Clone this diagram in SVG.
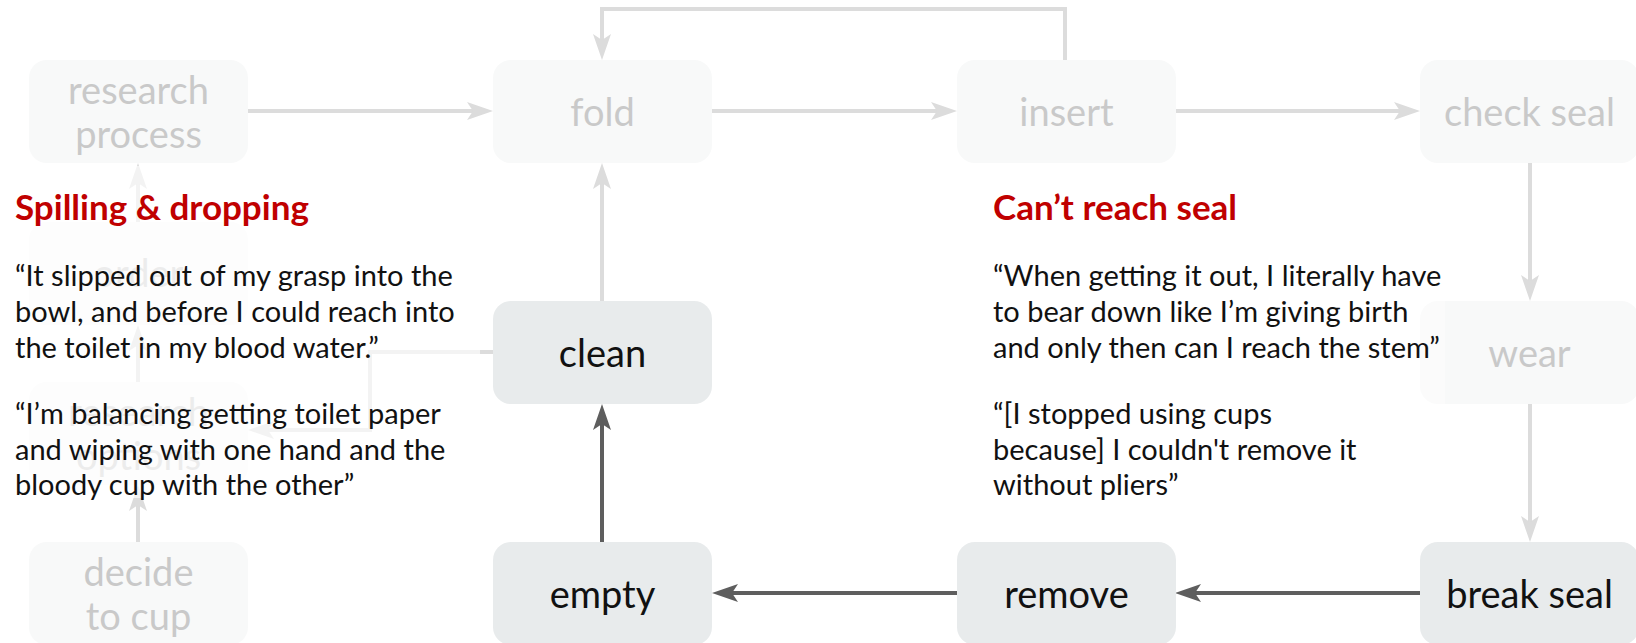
<svg xmlns="http://www.w3.org/2000/svg" width="1636" height="643" viewBox="0 0 1636 643">
<style>
.box{fill:#f8f9f9}
.abox{fill:#e8ebec}
.lbl{font-family:Lato,"Noto Sans",sans-serif;font-size:38px;text-anchor:middle;fill:#c9c9c9}
.albl{font-family:Lato,"Noto Sans",sans-serif;font-size:38px;text-anchor:middle;fill:#111}
.e{fill:none;stroke:#dcdcdc;stroke-width:4}
.d{fill:none;stroke:#5e5e5e;stroke-width:4}
.title{font-family:Lato,"Noto Sans",sans-serif;font-size:35px;font-weight:bold;fill:#c00000}
.q{font-family:Lato,"Noto Sans",sans-serif;font-size:29px;fill:#111}
</style>
<defs>
<marker id="al" markerUnits="userSpaceOnUse" markerWidth="26" markerHeight="20" viewBox="0 0 26 20" refX="20" refY="10" orient="auto">
<path d="M0,1 L26,10 L0,19 L6,10 Z" fill="#dcdcdc"/>
</marker>
<marker id="ad" markerUnits="userSpaceOnUse" markerWidth="26" markerHeight="20" viewBox="0 0 26 20" refX="20" refY="10" orient="auto">
<path d="M0,1 L26,10 L0,19 L6,10 Z" fill="#5e5e5e"/>
</marker>
</defs>
<g id="connectors">
<path class="e" d="M248,111 H487" marker-end="url(#al)"/>
<path class="e" d="M712,111 H951" marker-end="url(#al)"/>
<path class="e" d="M1175,111 H1414" marker-end="url(#al)"/>
<path class="e" d="M1065,60 V9 H602 V54" marker-end="url(#al)"/>
<path class="e" d="M1530,163 V295" marker-end="url(#al)"/>
<path class="e" d="M1530,404 V536" marker-end="url(#al)"/>
<path class="d" d="M1420,593 H1181" marker-end="url(#ad)"/>
<path class="d" d="M957,593 H718" marker-end="url(#ad)"/>
<path class="d" d="M602,542 V410" marker-end="url(#ad)"/>
<path class="e" d="M602,301 V169" marker-end="url(#al)"/>
<path class="e" d="M493,352 H370 V430 H254" marker-end="url(#al)"/>
<path class="e" d="M138,542 V491" marker-end="url(#al)"/>
<path class="e" d="M138,382 V331" marker-end="url(#al)"/>
<path class="e" d="M138,222 V169" marker-end="url(#al)"/>
</g>
<g id="research-process"><rect class="box" x="29" y="60" width="219" height="103" rx="18"/><text class="lbl" x="138.5" y="104">research</text><text class="lbl" x="138.5" y="148">process</text></g>
<g id="order"><rect class="box" x="29" y="222" width="219" height="103" rx="18"/><text class="lbl" x="138.5" y="287">order</text></g>
<g id="research-options"><rect class="box" x="29" y="382" width="219" height="103" rx="18"/><text class="lbl" x="138.5" y="426">research</text><text class="lbl" x="138.5" y="470">options</text></g>
<g id="decide-to-cup"><rect class="box" x="29" y="542" width="219" height="103" rx="18"/><text class="lbl" x="138.5" y="586">decide</text><text class="lbl" x="138.5" y="630">to cup</text></g>
<g id="fold"><rect class="box" x="493" y="60" width="219" height="103" rx="18"/><text class="lbl" x="602.5" y="126">fold</text></g>
<g id="insert"><rect class="box" x="957" y="60" width="219" height="103" rx="18"/><text class="lbl" x="1066.5" y="126">insert</text></g>
<g id="check-seal"><rect class="box" x="1420" y="60" width="219" height="103" rx="18"/><text class="lbl" x="1529.5" y="126">check seal</text></g>
<g id="wear"><rect class="box" x="1420" y="301" width="219" height="103" rx="18"/><text class="lbl" x="1529.5" y="367">wear</text></g>
<g id="break-seal"><rect class="abox" x="1420" y="542" width="219" height="103" rx="18"/><text class="albl" x="1529.5" y="608">break seal</text></g>
<g id="remove"><rect class="abox" x="957" y="542" width="219" height="103" rx="18"/><text class="albl" x="1066.5" y="608">remove</text></g>
<g id="empty"><rect class="abox" x="493" y="542" width="219" height="103" rx="18"/><text class="albl" x="602.5" y="608">empty</text></g>
<g id="clean"><rect class="abox" x="493" y="301" width="219" height="103" rx="18"/><text class="albl" x="602.5" y="367">clean</text></g>
<rect x="0" y="166" width="480" height="332" fill="#fff" fill-opacity="0.65"/>
<rect x="940" y="166" width="505" height="332" fill="#fff" fill-opacity="0.4"/>
<g id="quotes-left">
<text class="title" x="15" y="220">Spilling &amp; dropping</text>
<text class="q" x="15" y="286">“It slipped out of my grasp into the</text>
<text class="q" x="15" y="322">bowl, and before I could reach into</text>
<text class="q" x="15" y="358">the toilet in my blood water.”</text>
<text class="q" x="15" y="424">“I’m balancing getting toilet paper</text>
<text class="q" x="15" y="460">and wiping with one hand and the</text>
<text class="q" x="15" y="495">bloody cup with the other”</text>
</g>
<g id="quotes-right">
<text class="title" x="993" y="220">Can’t reach seal</text>
<text class="q" x="993" y="286">“When getting it out, I literally have</text>
<text class="q" x="993" y="322">to bear down like I’m giving birth</text>
<text class="q" x="993" y="358">and only then can I reach the stem”</text>
<text class="q" x="993" y="424">“[I stopped using cups</text>
<text class="q" x="993" y="460">because] I couldn't remove it</text>
<text class="q" x="993" y="495">without pliers”</text>
</g>
</svg>
